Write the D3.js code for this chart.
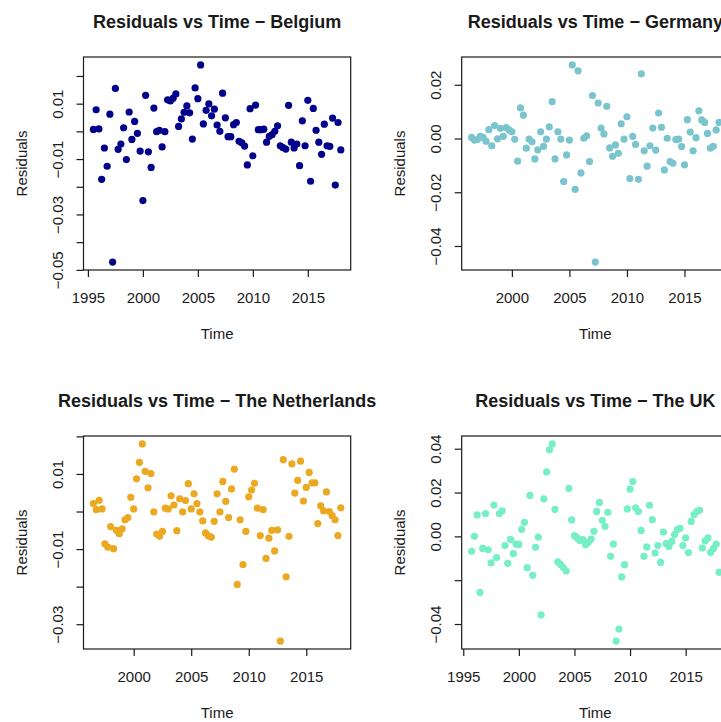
<!DOCTYPE html>
<html>
<head>
<meta charset="utf-8">
<script src="https://cdn.jsdelivr.net/npm/d3@7"></script>
<style>
    html, body { margin: 0; padding: 0; background: #fff; }
    svg { display: block; }
    text { font-family: 'Liberation Sans', Arial, sans-serif; fill: #1a1a1a; }
</style>
</head>
<body>
<svg id="residuals"></svg>
<script>
'use strict';

// quarterly series, like R ts objects (start, frequency = 4)
const quarterly = 4;

const belgiumStart = 1995.5;
const belgiumResid = [
    0.0007, 0.0078, 0.0009, -0.0173, -0.0060, -0.0126, 0.0062, -0.0472, 0.0155, -0.0065,
    -0.0046, 0.0013, -0.0102, 0.0070, -0.0029, 0.0036, -0.0007, -0.0071, -0.0250, 0.0130,
    -0.0074, -0.0130, 0.0084, -0.0001, 0.0004, -0.0056, -0.0001, 0.0114, 0.0110, 0.0120,
    0.0135, 0.0018, 0.0045, 0.0069, 0.0092, 0.0067, -0.0028, 0.0157, 0.0118, 0.0240,
    0.0027, 0.0076, 0.0099, 0.0056, 0.0080, 0.0023, 0.0000, 0.0138, 0.0049, -0.0019,
    -0.0019, 0.0024, 0.0032, -0.0036, -0.0041, -0.0053, -0.0121, 0.0082, -0.0088, 0.0095,
    0.0006, 0.0006, 0.0008, -0.0039, -0.0018, -0.0012, 0.0000, 0.0020, -0.0052, -0.0059,
    -0.0064, 0.0094, -0.0039, -0.0060, -0.0046, -0.0124, 0.0038, -0.0052, 0.0112, -0.0180,
    0.0083, 0.0004, -0.0039, -0.0083, 0.0026, -0.0052, -0.0054, 0.0048, -0.0194, 0.0032,
    -0.0067
];

const germanyStart = 1996.5;
const germanyResid = [
    0.0004, -0.0006, -0.0004, 0.0008, 0.0004, -0.0010, 0.0033, -0.0027, 0.0048, -0.0001,
    0.0038, 0.0008, 0.0041, 0.0032, 0.0025, -0.0003, -0.0084, 0.0114, 0.0087, -0.0036,
    -0.0002, -0.0012, -0.0076, -0.0042, 0.0025, -0.0029, -0.0002, 0.0043, 0.0137, -0.0076,
    0.0025, -0.0002, -0.0160, -0.0061, -0.0006, 0.0274, -0.0189, 0.0252, -0.0128, 0.0001,
    0.0010, -0.0086, 0.0160, -0.0460, 0.0132, 0.0039, 0.0017, 0.0120, -0.0035, -0.0066,
    -0.0024, -0.0055, 0.0055, -0.0002, 0.0081, -0.0149, 0.0008, -0.0022, -0.0152, 0.0241,
    -0.0046, -0.0103, -0.0027, 0.0039, -0.0043, 0.0095, 0.0042, -0.0117, 0.0001, -0.0086,
    -0.0092, -0.0004, -0.0002, -0.0030, -0.0098, 0.0070, 0.0024, -0.0046, 0.0003, 0.0103,
    0.0069, 0.0060, 0.0019, -0.0036, -0.0029, 0.0032, 0.0060
];

const netherlandsStart = 1996.5;
const netherlandsResid = [
    0.0021, 0.0005, 0.0030, 0.0007, -0.0086, -0.0095, -0.0040, -0.0099, -0.0050, -0.0059,
    -0.0046, -0.0022, -0.0016, 0.0038, 0.0007, 0.0087, 0.0131, 0.0180, 0.0107, 0.0063,
    0.0101, -0.0001, -0.0060, -0.0066, -0.0053, 0.0009, 0.0007, 0.0042, 0.0017, -0.0051,
    0.0034, -0.0001, 0.0029, 0.0074, 0.0007, 0.0047, 0.0021, -0.0001, -0.0025, -0.0057,
    -0.0065, -0.0068, -0.0026, 0.0047, -0.0001, 0.0080, 0.0027, -0.0016, 0.0060, 0.0113,
    -0.0194, -0.0022, -0.0141, -0.0053, 0.0039, 0.0057, 0.0075, 0.0009, -0.0064, 0.0005,
    -0.0125, -0.0071, -0.0050, -0.0105, -0.0049, -0.0345, 0.0138, -0.0174, -0.0066, 0.0127,
    0.0049, 0.0083, 0.0134, 0.0028, 0.0064, 0.0104, 0.0076, 0.0076, -0.0032, 0.0015,
    0.0002, 0.0052, 0.0000, -0.0011, -0.0022, -0.0064, 0.0010
];

const ukStart = 1995.75;
const ukResid = [
    -0.0068, 0.0000, 0.0098, -0.0256, -0.0055, 0.0104, -0.0061, -0.0121, 0.0143, -0.0097,
    0.0104, 0.0117, -0.0042, -0.0123, -0.0014, -0.0079, -0.0035, -0.0037, 0.0031, 0.0064,
    -0.0143, 0.0187, -0.0178, -0.0050, -0.0003, -0.0358, 0.0171, 0.0294, 0.0395, 0.0422,
    0.0123, -0.0116, -0.0128, -0.0142, -0.0158, 0.0219, 0.0075, 0.0003, -0.0007, -0.0020,
    -0.0015, -0.0038, -0.0027, -0.0012, 0.0023, 0.0114, 0.0155, 0.0073, 0.0046, 0.0110,
    -0.0091, -0.0035, -0.0478, -0.0423, -0.0185, -0.0129, 0.0125, 0.0216, 0.0250, 0.0130,
    0.0113, 0.0027, -0.0091, -0.0048, 0.0142, 0.0076, -0.0076, -0.0042, -0.0119, 0.0020,
    -0.0033, -0.0046, -0.0023, 0.0008, 0.0031, 0.0037, -0.0042, -0.0007, -0.0074, 0.0068,
    0.0099, 0.0113, 0.0119, -0.0053, -0.0021, -0.0007, -0.0073, -0.0055, -0.0035, -0.0164
];

// axis ticks (R drops labels that would overlap, so some ticks stay unlabeled)
const belgiumXTicks = [1995, 2000, 2005, 2010, 2015];
const belgiumYTicks = [-0.05, -0.04, -0.03, -0.02, -0.01, 0, 0.01, 0.02];
const belgiumYLabels = [-0.05, -0.03, -0.01, 0.01];

const germanyXTicks = [2000, 2005, 2010, 2015];
const germanyYTicks = [-0.04, -0.02, 0, 0.02];
const germanyYLabels = [-0.04, -0.02, 0, 0.02];

const netherlandsXTicks = [2000, 2005, 2010, 2015];
const netherlandsYTicks = [-0.03, -0.02, -0.01, 0, 0.01, 0.02];
const netherlandsYLabels = [-0.03, -0.01, 0.01];

const ukXTicks = [1995, 2000, 2005, 2010, 2015];
const ukYTicks = [-0.04, -0.02, 0, 0.02, 0.04];
const ukYLabels = [-0.04, 0, 0.02, 0.04];

(function () {
    const d3 = window.d3;
    const width = 721;
    const height = 722;

    const boxLeft = 83.5;
    const boxTop = 57;
    const colStep = 378.2;
    const rowStep = 379;
    const w = 267.2;
    const h = 213;
    const tickLen = 7;

    const panels = [
        {
            title: 'Residuals vs Time \u2212 Belgium', start: belgiumStart, resid: belgiumResid,
            xTicks: belgiumXTicks, yTicks: belgiumYTicks, yLabels: belgiumYLabels,
            color: '#00008b', col: 0, row: 0
        },
        {
            title: 'Residuals vs Time \u2212 Germany', start: germanyStart, resid: germanyResid,
            xTicks: germanyXTicks, yTicks: germanyYTicks, yLabels: germanyYLabels,
            color: '#7ac5cd', col: 1, row: 0
        },
        {
            title: 'Residuals vs Time \u2212 The Netherlands', start: netherlandsStart, resid: netherlandsResid,
            xTicks: netherlandsXTicks, yTicks: netherlandsYTicks, yLabels: netherlandsYLabels,
            color: '#eba922', col: 0, row: 1
        },
        {
            title: 'Residuals vs Time \u2212 The UK', start: ukStart, resid: ukResid,
            xTicks: ukXTicks, yTicks: ukYTicks, yLabels: ukYLabels,
            color: '#76eec6', col: 1, row: 1
        }
    ];

    // R default: extend the data range by 4% on each side
    const pad = function (ext) {
        const r = ext[1] - ext[0];
        return [ext[0] - 0.04 * r, ext[1] + 0.04 * r];
    };

    const fmt = d3.format('.2f');

    const svg = d3.select('#residuals')
        .attr('width', width)
        .attr('height', height);

    panels.forEach(function (p) {
        const times = p.resid.map((d, i) => p.start + i / quarterly);

        const x = d3.scaleLinear()
            .domain(pad(d3.extent(times)))
            .range([0, w]);
        const y = d3.scaleLinear()
            .domain(pad(d3.extent(p.resid)))
            .range([h, 0]);

        const g = svg.append('g')
            .attr('transform', 'translate(' + (boxLeft + p.col * colStep) + ',' +
                (boxTop + p.row * rowStep) + ')');

        g.selectAll('.pt')
            .data(p.resid)
            .enter().append('circle')
            .attr('class', 'pt')
            .attr('cx', (d, i) => x(times[i]))
            .attr('cy', d => y(d))
            .attr('r', 3.6)
            .attr('fill', p.color);

        g.append('rect')
            .attr('width', w)
            .attr('height', h)
            .attr('fill', 'none')
            .attr('stroke', '#1a1a1a')
            .attr('stroke-width', 1.2);

        // x axis
        g.append('g')
            .attr('transform', 'translate(0,' + h + ')')
            .call(d3.axisBottom(x)
                .tickValues(p.xTicks)
                .tickSize(tickLen)
                .tickSizeOuter(0)
                .tickFormat(d3.format('d')))
            .call(a => a.select('.domain').remove())
            .call(a => a.selectAll('line').attr('stroke', '#1a1a1a').attr('stroke-width', 1.2))
            .call(a => a.selectAll('text')
                .attr('y', 33)
                .attr('dy', 0)
                .attr('fill', '#1a1a1a')
                .attr('font-size', '15px')
                .attr('font-family', "'Liberation Sans', Arial, sans-serif"));

        // y axis, labels parallel to the axis as in R
        g.append('g')
            .call(d3.axisLeft(y)
                .tickValues(p.yTicks)
                .tickSize(tickLen)
                .tickSizeOuter(0)
                .tickFormat(function (d) {
                    const shown = p.yLabels.some(v => Math.abs(v - d) < 1e-9);
                    return shown ? fmt(d).replace('-', '\u2212') : '';
                }))
            .call(a => a.select('.domain').remove())
            .call(a => a.selectAll('line').attr('stroke', '#1a1a1a').attr('stroke-width', 1.2))
            .call(a => a.selectAll('text')
                .attr('transform', 'rotate(-90)')
                .attr('x', 0)
                .attr('y', -21)
                .attr('dy', 0)
                .attr('text-anchor', 'middle')
                .attr('fill', '#1a1a1a')
                .attr('font-size', '15px')
                .attr('font-family', "'Liberation Sans', Arial, sans-serif"));

        g.append('text')
            .attr('x', w / 2)
            .attr('y', -29)
            .attr('text-anchor', 'middle')
            .attr('font-size', '18px')
            .attr('font-weight', 'bold')
            .text(p.title);

        g.append('text')
            .attr('x', w / 2)
            .attr('y', h + 68.5)
            .attr('text-anchor', 'middle')
            .attr('font-size', '15px')
            .text('Time');

        g.append('text')
            .attr('transform', 'rotate(-90)')
            .attr('x', -h / 2)
            .attr('y', -56.5)
            .attr('text-anchor', 'middle')
            .attr('font-size', '15px')
            .text('Residuals');
    });
}());
</script>
</body>
</html>
